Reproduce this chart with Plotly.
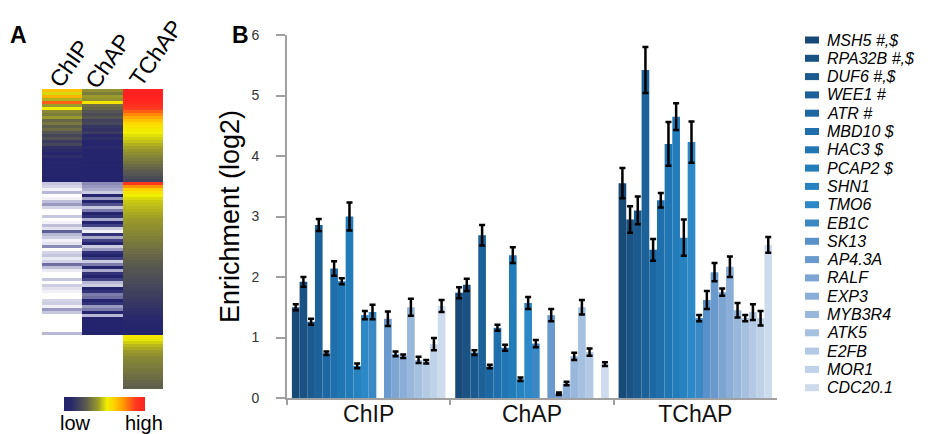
import plotly.graph_objects as go

W, H = 934, 434

# ---------------- Panel B data ----------------
assays = ["ChIP", "ChAP", "TChAP"]
genes = ["MSH5 #,$", "RPA32B #,$", "DUF6 #,$", "WEE1 #", "ATR #", "MBD10 $", "HAC3 $",
         "PCAP2 $", "SHN1", "TMO6", "EB1C", "SK13", "AP4.3A", "RALF", "EXP3", "MYB3R4",
         "ATK5", "E2FB", "MOR1", "CDC20.1"]
chip_vals = [1.5, 1.92, 1.26, 2.86, 0.74, 2.14, 1.93, 3.0, 0.53, 1.37, 1.42, None,
             1.31, 0.73, 0.69, 1.5, 0.63, 0.6, 0.89, 1.52]
chap_vals = [1.74, 1.87, 0.75, 2.69, 0.52, 1.16, 0.83, 2.36, 0.31, 1.57, 0.9, None,
             1.37, 0.07, 0.24, 0.69, 1.5, 0.76, None, 0.56]
tchap_vals = [3.55, 2.95, 3.1, 5.42, 2.45, 3.27, 4.2, 4.65, 2.65, 4.23, 1.32, 1.62,
              2.08, 1.75, 2.17, 1.45, 1.32, 1.42, 1.32, 2.53]
chip_err = [0.05, 0.08, 0.05, 0.1, 0.03, 0.12, 0.05, 0.23, 0.04, 0.07, 0.12, None,
            0.12, 0.04, 0.03, 0.14, 0.05, 0.03, 0.1, 0.1]
chap_err = [0.09, 0.1, 0.04, 0.17, 0.03, 0.05, 0.05, 0.13, 0.03, 0.1, 0.06, None,
            0.1, 0.02, 0.03, 0.06, 0.12, 0.06, None, 0.03]
tchap_err = [0.25, 0.22, 0.23, 0.38, 0.18, 0.12, 0.36, 0.22, 0.3, 0.34, 0.05, 0.15,
             0.15, 0.06, 0.17, 0.12, 0.05, 0.13, 0.12, 0.13]
y_ticks = [0, 1, 2, 3, 4, 5, 6]

gene_colors = ["#184a78", "#1a5283", "#1b5a8e", "#1c6198", "#1d68a2", "#1e6fab", "#2076b3",
               "#227cba", "#2782c0", "#2c88c6", "#3a88c4", "#5a91c9", "#6a9acd", "#7ca5d2",
               "#8aaed7", "#98b7db", "#a6c0e0", "#b3c9e4", "#c0d2e8", "#cddbec"]

# ---------------- Panel A data (heatmap, 0 = low, 10 = high) ----------------
heat_cols = ["ChIP", "ChAP", "TChAP"]
scale_labels = ["low", "high"]
chip_top = [6.5, 5.0, 6.8, 4.5, 8.2, 4.2, 5.4, 3.8, 3.5, 4.2, 3.0, 3.4, 2.8, 3.1, 2.5,
            2.0, 2.4, 1.6, 2.0, 1.2, 1.0, 0.8, 1.1, 0.6, 0.7, 0.4, 0.6, 0.3, 0.5, 0.3, 0.2]
chap_top = [4.0, 3.5, 4.2, 4.0, 5.6, 3.2, 3.0, 2.5, 2.2, 2.6, 1.8, 2.0, 1.4, 1.2, 1.6,
            0.9, 1.1, 0.7, 0.6, 0.9, 0.5, 0.6, 0.4, 0.5, 0.3, 0.4, 0.3, 0.2, 0.3, 0.2, 0.2]
tchap_top = [10, 10, 10, 9.8, 9.6, 9.3, 8.8, 8.2, 7.6, 7.0, 6.5, 6.0, 5.7, 5.5, 5.3, 5.1,
             4.9, 4.7, 4.5, 4.3, 4.1, 3.9, 3.7, 3.5, 3.3, 3.1, 2.9, 2.7, 2.5, 2.2, 1.9]
tchap_mid = [9.0, 7.4, 6.2, 5.6, 5.3, 5.0, 4.8, 4.7, 4.6, 4.5, 4.4, 4.3, 4.2, 4.1, 4.0,
             3.9, 3.8, 3.7, 3.6, 3.5, 3.4, 3.3, 3.2, 3.1, 3.0, 2.9, 2.8, 2.7, 2.6, 2.5,
             2.4, 2.3, 2.2, 2.1, 2.0, 1.9, 1.8, 1.7, 1.6, 1.5, 1.4, 1.3, 1.2, 1.1, 1.0,
             0.9, 0.8, 0.7, 0.6, 0.5, 0.4]
tchap_bot = [5.6, 5.2, 4.9, 4.6, 4.4, 4.2, 4.0, 3.8, 3.7, 3.6, 3.5, 3.4, 3.3, 3.2, 3.1,
             3.0, 2.9, 2.8]
# faint (below-threshold) signal in the middle block: 0 = none (white), 1 = dark
chip_mid_faint = [0.4, 0.3, 0.1, 0.5, 0, 0.1, 0.45, 0.6, 0.3, 0, 0, 0.4, 0, 0.1, 0.45,
                  0.2, 0.8, 0.5, 0.35, 0.1, 0.2, 0.65, 0, 0.3, 0.4, 0.15, 0.3, 0.75, 0.45,
                  0.15, 0, 0, 0.4, 0, 0.35, 0.2, 0.1, 0, 0, 0.3, 0.35, 0.1, 0.6, 0.4, 0,
                  0, 0, 0, 0, 0, 0.5]
chap_mid_faint = [0.65, 0.6, 0.55, 0.35, 1.0, 0.6, 1.0, 0.85, 0.4, 0.7, 1.0, 0.95, 0.55,
                  1.0, 0.9, 0.35, 0.1, 0.95, 0.55, 0.9, 1.0, 0.35, 0.6, 0.95, 1.0, 0.9,
                  0.35, 0.7, 1.0, 0.55, 0.95, 1.0, 0.9, 0.5, 0.35, 1.0, 0.95, 0.7, 0.75,
                  1.0, 0.95, 0.6, 0.7, 1.0, 0.5, 1.0, 1.0, 1.0, 1.0, 1.0, 1.0]

main_z = []
faint_z = []
for i in range(len(chip_top)):
    main_z.append([chip_top[i], chap_top[i], tchap_top[i]])
    faint_z.append([None, None, None])
for i in range(len(tchap_mid)):
    main_z.append([None, None, tchap_mid[i]])
    faint_z.append([chip_mid_faint[i], chap_mid_faint[i], None])
for v in tchap_bot:
    main_z.append([None, None, v])
    faint_z.append([None, None, None])
nrows = len(main_z)

heat_scale = [[0, "#23236e"], [0.08, "#26266c"], [0.27, "#5a5a50"], [0.42, "#9a9a2a"],
              [0.53, "#f0f000"], [0.62, "#ffd000"], [0.72, "#ffa000"], [0.88, "#ff3a20"],
              [1, "#ff2020"]]
faint_scale = [[0, "#ffffff"], [0.5, "#b8b8d6"], [1, "#23236e"]]

FONT = "Liberation Sans, Arial, sans-serif"

fig = go.Figure()

# ---------------- bars ----------------
for i, g in enumerate(genes):
    fig.add_trace(go.Bar(
        x=assays, y=[chip_vals[i], chap_vals[i], tchap_vals[i]], name=g,
        marker=dict(color=gene_colors[i], line=dict(width=0)),
        error_y=dict(type="data", array=[chip_err[i], chap_err[i], tchap_err[i]],
                     visible=True, color="black", thickness=2.5, width=3),
        showlegend=False, xaxis="x", yaxis="y"))

# ---------------- heatmap ----------------
fig.add_trace(go.Heatmap(
    z=main_z, x=[0, 1, 2], colorscale=heat_scale, zmin=0, zmax=10,
    xaxis="x2", yaxis="y2", hoverongaps=False,
    colorbar=dict(orientation="h", x=104.5 / W, xanchor="center", xpad=0,
                  y=1 - 397 / H, yanchor="top", ypad=0,
                  len=81, lenmode="pixels", thickness=14, thicknessmode="pixels",
                  outlinewidth=0, ticks="", showticklabels=False)))
fig.add_trace(go.Heatmap(
    z=faint_z, x=[0, 1, 2], colorscale=faint_scale, zmin=0, zmax=1, showscale=False,
    xaxis="x2", yaxis="y2", hoverongaps=False))

annotations = []
shapes = []
# legend drawn as text + swatches
for i, g in enumerate(genes):
    yp = 40 + 18.3 * i
    shapes.append(dict(type="rect", xref="paper", yref="paper",
                       x0=805 / W, x1=819 / W, y0=1 - (yp + 3.5) / H, y1=1 - (yp - 3.5) / H,
                       fillcolor=gene_colors[i], line=dict(width=0)))
    annotations.append(dict(text="<i>" + g + "</i>", x=825 / W, y=1 - yp / H,
                            xref="paper", yref="paper", xanchor="left", yanchor="middle",
                            showarrow=False, font=dict(size=16, color="black", family=FONT)))

# colour-scale labels
for cx, t in [(75, scale_labels[0]), (144, scale_labels[1])]:
    annotations.append(dict(text=t, x=cx / W, y=1 - 423 / H, xref="paper", yref="paper",
                            xanchor="center", yanchor="middle", showarrow=False,
                            font=dict(size=20, color="black", family=FONT)))

# panel letters
annotations.append(dict(text="<b>A</b>", x=18 / W, y=1 - 35 / H, xref="paper", yref="paper",
                        xanchor="center", yanchor="middle",
                        showarrow=False, font=dict(size=23, color="black", family=FONT)))
annotations.append(dict(text="<b>B</b>", x=240 / W, y=1 - 35 / H, xref="paper", yref="paper",
                        xanchor="center", yanchor="middle",
                        showarrow=False, font=dict(size=23, color="black", family=FONT)))
# heatmap column headers
for cx, cy, t in [(69, 64, heat_cols[0]), (108, 61, heat_cols[1]), (156, 53, heat_cols[2])]:
    annotations.append(dict(text=t, x=cx / W, y=1 - cy / H, xref="paper", yref="paper",
                            xanchor="center", yanchor="middle", textangle=-55,
                            showarrow=False, font=dict(size=23, color="black", family=FONT)))

fig.update_layout(
    width=W, height=H, margin=dict(l=0, r=0, t=0, b=0, autoexpand=False),
    paper_bgcolor="white", plot_bgcolor="white",
    barmode="group", bargap=0.06, bargroupgap=0,
    font=dict(family=FONT),
    xaxis=dict(domain=[287 / W, 777 / W], type="category", categoryorder="array",
               categoryarray=assays, tickson="boundaries", ticks="outside", ticklen=5,
               tickwidth=2, tickcolor="#a0a0a0", showline=True, linecolor="#a0a0a0",
               linewidth=2, showgrid=False, zeroline=False, ticklabelstandoff=-6,
               tickfont=dict(size=23, color="#111", family=FONT), anchor="y"),
    yaxis=dict(domain=[1 - 398 / H, 1 - 35 / H], range=[0, 6], tickvals=y_ticks,
               ticks="outside", ticklen=9, tickwidth=2, tickcolor="#a0a0a0",
               showline=True, linecolor="#a0a0a0", linewidth=2, showgrid=False,
               zeroline=False, ticklabelstandoff=14,
               tickfont=dict(size=14, color="#333", family=FONT),
               title=dict(text="Enrichment (log2)", standoff=4,
                          font=dict(size=27, color="black", family=FONT)),
               anchor="x"),
    xaxis2=dict(domain=[42 / W, 163 / W], range=[-0.5, 2.5], visible=False, anchor="y2"),
    yaxis2=dict(domain=[1 - 389 / H, 1 - 89 / H], range=[nrows - 0.5, -0.5], visible=False,
                anchor="x2"),
    annotations=annotations, shapes=shapes,
)

fig.write_html("out.html", config={"displayModeBar": False},
               post_script="document.body.style.margin='0';document.body.style.overflow='hidden';")
